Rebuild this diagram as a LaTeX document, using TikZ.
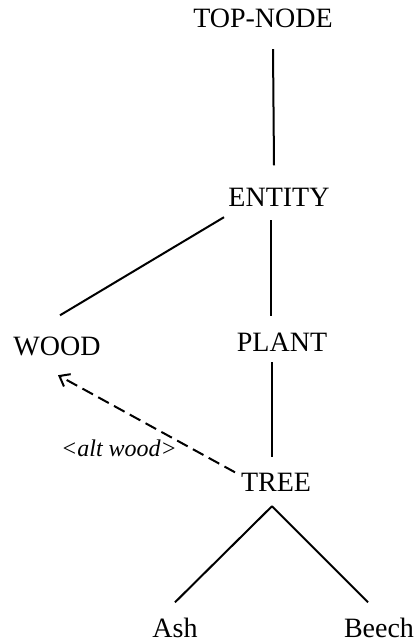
\documentclass[tikz,border=0pt]{standalone}
\usepackage{fontspec}
\setmainfont{Liberation Serif}
\usetikzlibrary{arrows.meta}
\begin{document}
\begin{tikzpicture}[x=1pt,y=-1pt,
  lbl/.style={inner sep=0pt,anchor=base,font=\fontsize{28}{30}\selectfont,
              text height=18.5pt,text depth=0pt},
  edge/.style={line width=2pt},
  alt/.style={line width=2pt,dash pattern=on 12pt off 6pt,
              -{Straight Barb[length=9pt,width=14pt,line width=2pt]}},
  altlbl/.style={inner sep=0pt,anchor=base,font=\fontsize{24}{28}\itshape}]
\useasboundingbox (0,0) rectangle (415,642);

% hierarchy labels
\node[lbl] (top)    at (263,28)  {TOP-NODE};
\node[lbl] (entity) at (279,206) {ENTITY};
\node[lbl] (wood)   at (57,355)  {WOOD};
\node[lbl] (plant)  at (282,351) {PLANT};
\node[lbl] (tree)   at (276,491) {TREE};
\node[lbl] (ash)    at (175,637) {Ash};
\node[lbl] (beech)  at (379,637) {Beech};

% is-a links
\draw[edge] ([xshift=10pt,yshift=-21pt]top.south) -- ([xshift=-5pt,yshift=22pt]entity.north);
\draw[edge] ([xshift=-55pt,yshift=-11pt]entity.south) -- ([xshift=3pt,yshift=21pt]wood.north);
\draw[edge] ([xshift=-8pt,yshift=-14pt]entity.south) -- ([xshift=-11pt,yshift=16pt]plant.north);
\draw[edge] ([xshift=-10pt,yshift=-11pt]plant.south) -- ([xshift=-4pt,yshift=15pt]tree.north);
\draw[edge] ([xshift=-4pt,yshift=-15pt]tree.south) coordinate (apex) -- ([yshift=16pt]ash.north);
\draw[edge] (apex) -- ([xshift=-11pt,yshift=16pt]beech.north);

% alternative link
\draw[alt] ([xshift=-41pt]tree.north) -- ([xshift=1pt,yshift=-20pt]wood.south);
\node[altlbl] at (119,456) {<alt wood>};
\end{tikzpicture}
\end{document}
